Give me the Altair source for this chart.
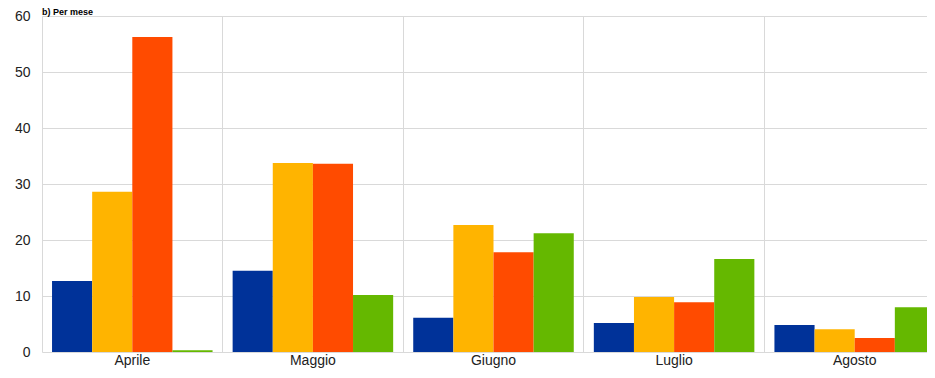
import altair as alt
import pandas as pd

months = ["Aprile", "Maggio", "Giugno", "Luglio", "Agosto"]
series = ["Serie 1", "Serie 2", "Serie 3", "Serie 4"]
s1 = [12.7, 14.5, 6.1, 5.2, 4.8]
s2 = [28.6, 33.75, 22.7, 9.8, 4.05]
s3 = [56.25, 33.6, 17.8, 8.9, 2.5]
s4 = [0.3, 10.2, 21.2, 16.6, 8.0]
colors = ["#003299", "#FFB400", "#FF4B00", "#65B800"]
y_ticks = [0, 10, 20, 30, 40, 50, 60]
title_text = "b) Per mese"

rows = []
for name, vals in zip(series, [s1, s2, s3, s4]):
    for m, v in zip(months, vals):
        rows.append({"mese": m, "serie": name, "valore": v})
df = pd.DataFrame(rows)

FONT = "Liberation Sans"

bars = alt.Chart(df).mark_bar().encode(
    x=alt.X("mese:N", sort=months, title=None,
            scale=alt.Scale(paddingInner=0, paddingOuter=0),
            axis=alt.Axis(labelAngle=0, domain=False, ticks=False, grid=True,
                          bandPosition=0, gridColor="#d9d9d9", gridWidth=1,
                          labelFont=FONT, labelFontSize=14, labelColor="#222222",
                          labelPadding=1)),
    xOffset=alt.XOffset("serie:N", sort=series,
                        scale=alt.Scale(paddingInner=0, paddingOuter=0.25)),
    y=alt.Y("valore:Q", title=None,
            scale=alt.Scale(domain=[0, 60], nice=False),
            axis=alt.Axis(values=y_ticks, domain=False, ticks=False, grid=True,
                          gridColor="#d9d9d9", gridWidth=1,
                          labelFont=FONT, labelFontSize=14, labelColor="#222222",
                          labelPadding=12)),
    color=alt.Color("serie:N", sort=series, legend=None,
                    scale=alt.Scale(domain=series, range=colors)),
)

title = alt.Chart(pd.DataFrame({"t": [title_text]})).mark_text(
    align="left", baseline="alphabetic", font=FONT, fontSize=9,
    fontWeight="bold", color="#000000"
).encode(x=alt.value(0), y=alt.value(-1), text="t:N")

chart = alt.layer(bars, title).properties(
    width=903, height=336,
    autosize=alt.AutoSizeParams(type="none"),
    padding={"left": 34, "top": 8, "right": -18, "bottom": 18},
).configure_view(stroke=None)

chart.save("out.html", embed_options={"renderer": "svg", "actions": False})
